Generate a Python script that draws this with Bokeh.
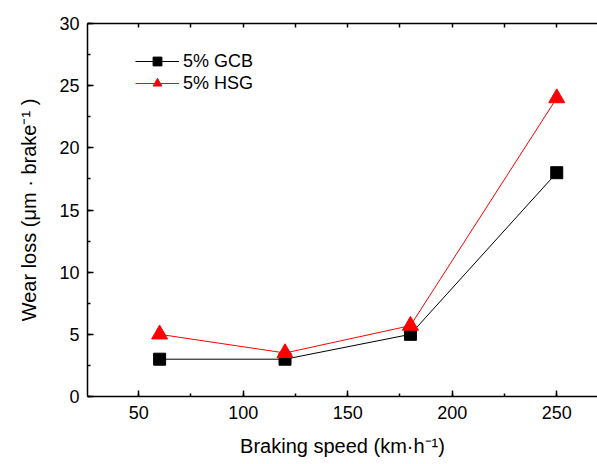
from bokeh.plotting import figure
from bokeh.models import LinearAxis, SingleIntervalTicker, Range1d, Legend, LegendItem
from bokeh.embed import file_html
from bokeh.resources import INLINE

speed = [60, 120, 180, 250]
gcb = [3.0, 3.0, 5.0, 18.0]
hsg = [5.0, 3.5, 5.7, 24.0]
labels = ["5% GCB", "5% HSG"]

FONT = "Liberation Sans"

p = figure(width=597, height=464, output_backend="svg", toolbar_location=None,
           x_range=Range1d(25.5, 269.5), y_range=Range1d(0, 30),
           min_border_left=87, min_border_right=0, min_border_top=23, min_border_bottom=68,
           x_axis_label="Braking speed (km·h⁻¹)",
           y_axis_label="Wear loss (μm · brake⁻¹ )")
p.outline_line_color = None
p.grid.visible = False
p.background_fill_color = "white"

for ax, interval in ((p.xaxis[0], 50), (p.yaxis[0], 5)):
    ax.ticker = SingleIntervalTicker(interval=interval, num_minor_ticks=2)
    ax.axis_line_width = 1.5
    ax.axis_line_color = "black"
    ax.major_tick_in = 6
    ax.major_tick_out = 0
    ax.minor_tick_in = 3
    ax.minor_tick_out = 0
    ax.major_tick_line_width = 1.5
    ax.minor_tick_line_width = 1.5
    ax.major_label_text_font = FONT
    ax.major_label_text_font_size = "18px"
    ax.major_label_text_color = "black"
    ax.axis_label_text_font = FONT
    ax.axis_label_text_font_size = "20px"
    ax.axis_label_text_font_style = "normal"
    ax.axis_label_text_color = "black"

p.xaxis[0].major_label_standoff = 9
p.xaxis[0].axis_label_standoff = 13
p.yaxis[0].major_label_standoff = 8
p.yaxis[0].axis_label_standoff = 16

top = LinearAxis(ticker=SingleIntervalTicker(interval=25, num_minor_ticks=0),
                 axis_line_width=1.5, axis_line_color="black",
                 major_tick_in=4, major_tick_out=0, major_tick_line_width=1.5,
                 minor_tick_in=0, minor_tick_out=0,
                 major_label_text_color=None, major_label_text_font_size="1px")
p.add_layout(top, "above")

l1 = p.line(speed, gcb, line_color="black", line_width=1)
m1 = p.scatter(speed, gcb, marker="square", size=12, fill_color="black", line_color="black")
l2 = p.line(speed, hsg, line_color="red", line_width=1)
m2 = p.scatter(speed, hsg, marker="triangle", size=16, fill_color="red", line_color="red")

leg = Legend(items=[LegendItem(label=labels[0], renderers=[l1, m1]),
                    LegendItem(label=labels[1], renderers=[l2, m2])],
             location=(48, 302), padding=0, margin=0, spacing=0,
             glyph_width=44, glyph_height=22, label_height=22, label_standoff=4,
             border_line_color=None, background_fill_alpha=0,
             label_text_font=FONT, label_text_font_size="18px",
             label_text_color="black")
p.add_layout(leg)

open("out.html", "w").write(file_html(p, INLINE))
